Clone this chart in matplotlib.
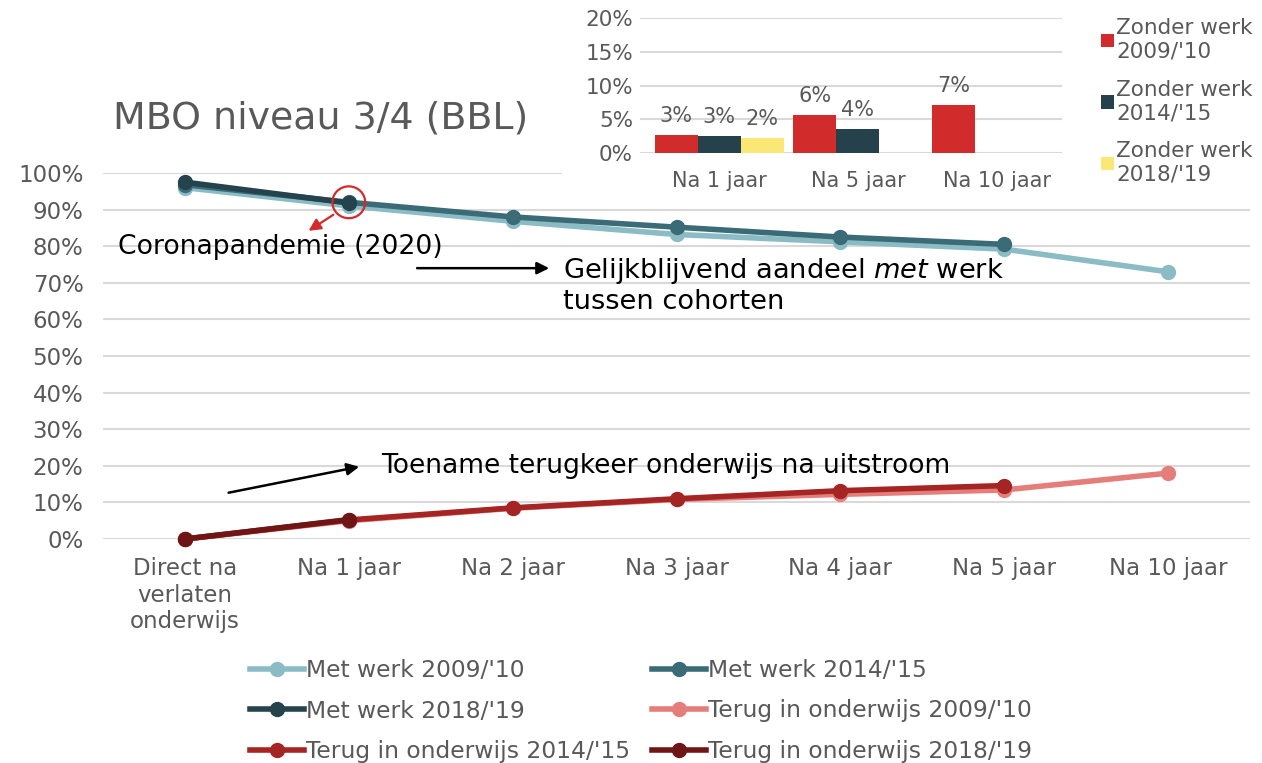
import numpy as np
import matplotlib.pyplot as plt
import matplotlib.patches as mpatches

plt.rcParams['font.family'] = ['DejaVu Sans']

# ==== DATA ====
categories = ["Direct na\nverlaten\nonderwijs", "Na 1 jaar", "Na 2 jaar", "Na 3 jaar",
              "Na 4 jaar", "Na 5 jaar", "Na 10 jaar"]

met_2009 = [96.0, 91.0, 86.8, 83.2, 81.2, 79.2, 73.0]
met_2014 = [96.8, 92.0, 88.0, 85.2, 82.5, 80.5]
met_2018 = [97.5, 91.8]
terug_2009 = [0.0, 5.0, 8.4, 10.8, 12.2, 13.4, 18.0]
terug_2014 = [0.0, 5.2, 8.5, 11.0, 13.2, 14.6]
terug_2018 = [0.0, 5.3]

bar_categories = ["Na 1 jaar", "Na 5 jaar", "Na 10 jaar"]
zonder_2009 = [2.7, 5.6, 7.1]
zonder_2014 = [2.5, 3.6, np.nan]
zonder_2018 = [2.2, np.nan, np.nan]
zonder_labels_2009 = ["3%", "6%", "7%"]
zonder_labels_2014 = ["3%", "4%", ""]
zonder_labels_2018 = ["2%", "", ""]
# ==============

grey_text = '#595959'
grid_col = '#d9d9d9'

fig = plt.figure(figsize=(12.62, 7.63), dpi=100)
W, H = 1262, 763

# main axes: pixel box x 103..1250, y 173(100%)..539(0%)
ax = fig.add_axes([103 / W, (H - 539) / H, (1250 - 103) / W, (539 - 173) / H])
ax.set_xlim(-0.5, 6.5)
ax.set_ylim(0, 100)
ax.set_yticks(np.arange(0, 101, 10))
ax.set_yticklabels([f"{v}%" for v in range(0, 101, 10)])
ax.set_xticks(range(len(categories)))
ax.set_xticklabels(categories, linespacing=1.2)
ax.yaxis.grid(True, color=grid_col, linewidth=1.5)
ax.set_axisbelow(True)
for s in ax.spines.values():
    s.set_visible(False)
ax.tick_params(length=0, labelsize=16.5, colors=grey_text, pad=14)
ax.tick_params(axis='x', pad=13)

series = [
    (met_2009, '#8bbcc6', "Met werk 2009/'10"),
    (met_2014, '#3a6b76', "Met werk 2014/'15"),
    (met_2018, '#24434d', "Met werk 2018/'19"),
    (terug_2009, '#e57e7a', "Terug in onderwijs 2009/'10"),
    (terug_2014, '#a52424', "Terug in onderwijs 2014/'15"),
    (terug_2018, '#6e1616', "Terug in onderwijs 2018/'19"),
]
handles = []
for vals, col, lab in series:
    ln, = ax.plot(range(len(vals)), vals, '-o', color=col, lw=4, ms=10, label=lab,
                  clip_on=False)
    handles.append(ln)

# annotations
ax.add_patch(mpatches.Ellipse((1, 92.0), 0.2, 8.7, fill=False, ec='#d42a2a', lw=1.6, zorder=5))
ax.annotate("", xy=(0.74, 83.8), xytext=(0.92, 89.0),
            arrowprops=dict(arrowstyle='-|>', color='#d42a2a', lw=1.6, mutation_scale=18))
ax.text(-0.41, 79.7, "Coronapandemie (2020)", fontsize=19.2, color='black', va='center')
ax.annotate("", xy=(2.24, 74.0), xytext=(1.4, 74.0),
            arrowprops=dict(arrowstyle='-|>', color='black', lw=1.8, mutation_scale=18))
ax.text(2.31, 77.4, "Gelijkblijvend aandeel $\\it{met}$ werk\ntussen cohorten",
        fontsize=19.6, color='black', va='top', linespacing=1.15)
ax.annotate("", xy=(1.08, 19.9), xytext=(0.25, 12.5),
            arrowprops=dict(arrowstyle='-|>', color='black', lw=1.8, mutation_scale=18))
ax.text(1.2, 19.9, "Toename terugkeer onderwijs na uitstroom", fontsize=19.1,
        color='black', va='center')

fig.text(113 / W, 1 - 118 / H, "MBO niveau 3/4 (BBL)", fontsize=27.3, color=grey_text, va='center')

# legend filled row by row like the reference
leg_order = [0, 2, 4, 1, 3, 5]
fig.legend(handles=[handles[i] for i in leg_order], ncol=2, loc='upper left',
           bbox_to_anchor=(229 / W, 1 - 638 / H), frameon=False, fontsize=16.8,
           handlelength=2.3, handletextpad=0.1, columnspacing=0.95, labelspacing=0.75,
           labelcolor=grey_text)

# white box behind the inset
fig.patches.append(mpatches.Rectangle((562 / W, 1 - 196 / H), 1 - 562 / W, 196 / H,
                                      transform=fig.transFigure, fc='white', ec='none',
                                      zorder=1))

# inset bar chart: pixel box x 640..1062, y 18(20%)..153(0%)
ax2 = fig.add_axes([640 / W, (H - 153) / H, (1062 - 640) / W, (153 - 18) / H], zorder=2)
ax2.patch.set_alpha(0)
x = np.arange(len(bar_categories))
bw = 0.31
bar_sets = [
    (zonder_2009, zonder_labels_2009, '#d22b2b', "Zonder werk\n2009/'10", -bw),
    (zonder_2014, zonder_labels_2014, '#25414c', "Zonder werk\n2014/'15", 0),
    (zonder_2018, zonder_labels_2018, '#fbe776', "Zonder werk\n2018/'19", bw),
]
bar_handles = []
for vals, labs, col, lab, off in bar_sets:
    b = ax2.bar(x + off, vals, width=bw, color=col, label=lab, zorder=3)
    bar_handles.append(b)
    for xi, v, t in zip(x + off, vals, labs):
        if t:
            ax2.text(xi, v + 1.3, t, ha='center', va='bottom', fontsize=15, color=grey_text)
ax2.set_xlim(-0.57, 2.47)
ax2.set_ylim(0, 20)
ax2.set_yticks(np.arange(0, 21, 5))
ax2.set_yticklabels([f"{v}%" for v in range(0, 21, 5)])
ax2.set_xticks(x)
ax2.set_xticklabels(bar_categories)
ax2.yaxis.grid(True, color=grid_col, linewidth=1.5)
ax2.set_axisbelow(True)
for s in ax2.spines.values():
    s.set_visible(False)
ax2.tick_params(length=0, labelsize=15.5, colors=grey_text, pad=5)
ax2.tick_params(axis='x', labelsize=15, pad=13)
fig.legend(handles=bar_handles, loc='upper left', bbox_to_anchor=(1082 / W, 1 + 1 / H),
           frameon=False, fontsize=15.5, handlelength=0.6, handleheight=0.6, handletextpad=0.1,
           labelspacing=0.85, labelcolor=grey_text)

fig.savefig("out.png", dpi=100)
